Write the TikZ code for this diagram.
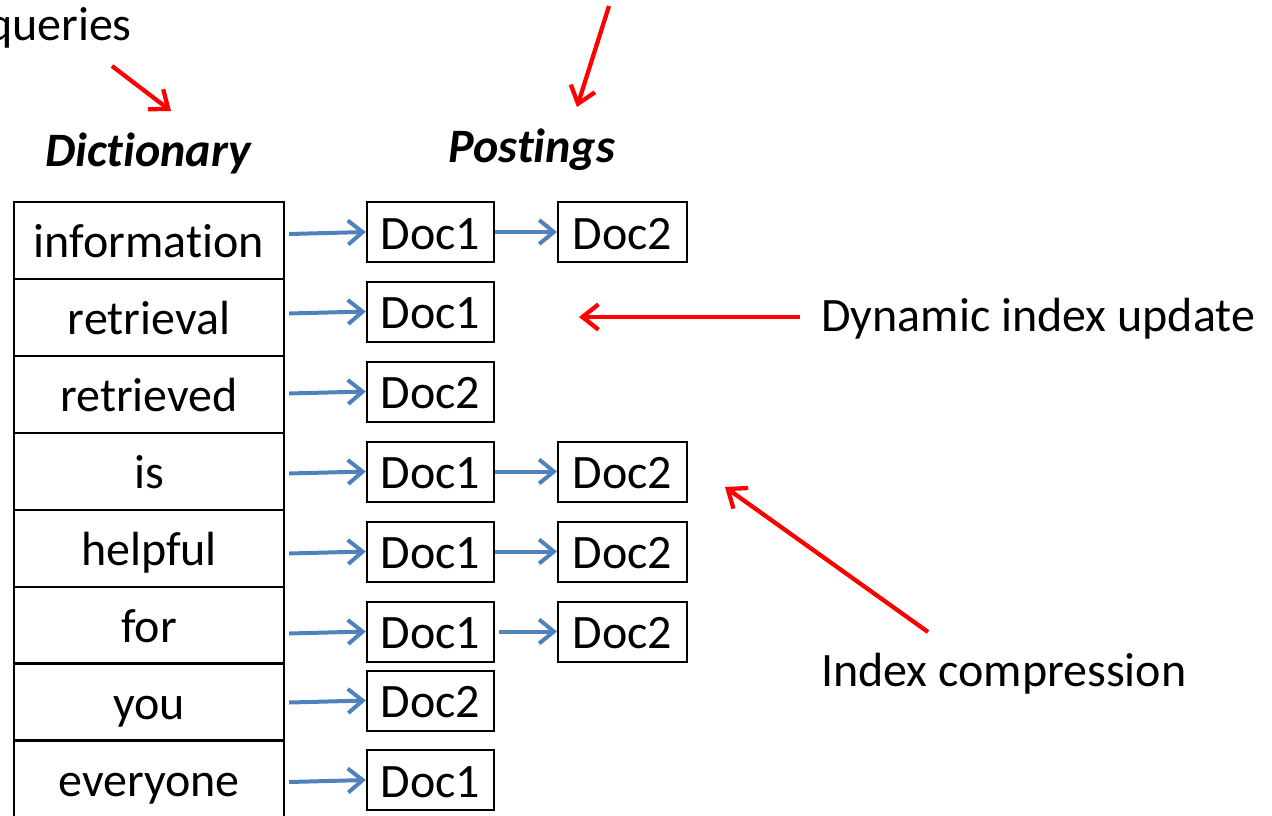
\documentclass[tikz,border=0pt]{standalone}
\usepackage{fontspec}
\setmainfont{Carlito}[Ligatures=CommonOff]
\usetikzlibrary{arrows.meta}
\definecolor{linkblue}{HTML}{4F81BD}
\definecolor{hired}{HTML}{FF0000}
\tikzset{
  big/.style={font=\fontsize{36}{43}\selectfont},
  dictrow/.style={draw=black, line width=1.6pt, minimum width=202.5pt, minimum height=57.75pt, inner sep=0pt, text height=26pt, text depth=0pt, big},
  docbox/.style={draw=black, line width=1.5pt, minimum width=95.5pt, minimum height=45pt, inner sep=0pt, text height=26pt, text depth=0pt, big},
  link/.style={draw=linkblue, line width=3pt, -{Straight Barb[length=11pt, width=18pt, line width=3pt]}},
  note/.style={draw=hired, line width=3.2pt, -{Straight Barb[length=12pt, width=19pt, line width=3.2pt]}},
  label/.style={big, inner sep=0pt},
  title/.style={font=\fontsize{36}{43}\selectfont\bfseries\itshape, inner sep=0pt}
}
\begin{document}
\begin{tikzpicture}[x=0.75pt, y=-0.75pt]
\useasboundingbox (0,0) rectangle (1272,815);
% dictionary rows
\node[dictrow] (r1) at (149,240.5) {information};
\node[dictrow] (r2) at (149,317.5) {retrieval};
\node[dictrow] (r3) at (149,394.5) {retrieved};
\node[dictrow] (r4) at (149,471.5) {is};
\node[dictrow] (r5) at (149,548.5) {helpful};
\node[dictrow] (r6) at (149,625.5) {for};
\node[dictrow] (r7) at (149,702) {you};
\node[dictrow] (r8) at (149,779) {everyone};
% postings
\node[docbox] (a1) at (430.5,232) {Doc1};
\node[docbox, minimum width=96.75pt] (b1) at (622.5,232) {Doc2};
\node[docbox] (a2) at (430.5,311.5) {Doc1};
\node[docbox] (a3) at (430.5,391.5) {Doc2};
\node[docbox] (a4) at (430.5,471.5) {Doc1};
\node[docbox, minimum width=96.75pt] (b4) at (622.5,471.5) {Doc2};
\node[docbox] (a5) at (430.5,551.5) {Doc1};
\node[docbox, minimum width=96.75pt] (b5) at (622.5,551.5) {Doc2};
\node[docbox] (a6) at (430.5,631.5) {Doc1};
\node[docbox, minimum width=96.75pt] (b6) at (622.5,631.5) {Doc2};
\node[docbox] (a7) at (430.5,700.5) {Doc2};
\node[docbox] (a8) at (430.5,780) {Doc1};
% links
\foreach \i in {1,...,8}{
  \draw[link] ([xshift=3pt,yshift=-1.5pt]r\i.east |- a\i.west) -- (a\i.west);
}
\foreach \i in {1,4,5}{
  \draw[link] (a\i.east) -- (b\i.west);
}
\draw[link] ([xshift=3pt]a6.east) -- (b6.west);
% titles
\node[title] (dict) at (148,153) {Dictionary};
\node[title] (post) at (532,150) {Postings};
\node[label, anchor=east] (queries) at (132,28) {queries};
\node[label, anchor=west] (dyn) at (821,319) {Dynamic index update};
\node[label, anchor=west] (comp) at (821,674) {Index compression};
% red annotation arrows
\coordinate (q0) at (112,66);
\coordinate (q1) at (171,111);
\draw[note] (q0) -- (q1);
\coordinate (p0) at (609,6);
\coordinate (p1) at (577,107);
\draw[note] (p0) -- (p1);
\coordinate (d0) at (800,317);
\coordinate (d1) at (579,317);
\draw[note] (d0) -- (d1);
\coordinate (c0) at (928,632);
\coordinate (c1) at (725,487);
\draw[note] (c0) -- (c1);
\end{tikzpicture}
\end{document}
